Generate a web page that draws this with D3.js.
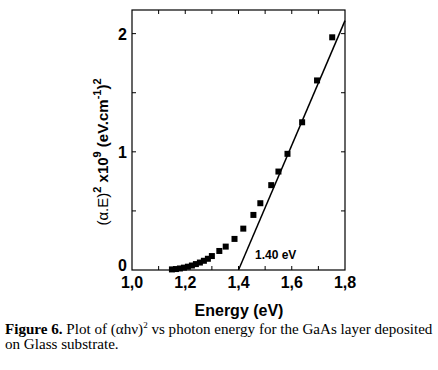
<!DOCTYPE html>
<html>
<head>
<meta charset="utf-8">
<script src="https://cdn.jsdelivr.net/npm/d3@7"></script>
<style>
  body { margin: 0; background: #fff; }
</style>
</head>
<body>
<script>
// Data
const energy = [1.15, 1.165, 1.18, 1.195, 1.21, 1.225, 1.24, 1.255, 1.27, 1.285, 1.30,
                1.328, 1.352, 1.385, 1.418, 1.456, 1.482, 1.523, 1.550, 1.584, 1.639, 1.695, 1.752];
const alphaE2 = [0.005, 0.008, 0.013, 0.02, 0.028, 0.038, 0.05, 0.063, 0.078, 0.095, 0.118,
                 0.161, 0.198, 0.263, 0.35, 0.466, 0.565, 0.718, 0.833, 0.983, 1.25, 1.604, 1.969];
const fitX = [1.40, 1.80];
const fitY = [0, 2.11];
const xTicks = [1.0, 1.2, 1.4, 1.6, 1.8];
const yTicks = [0, 1, 2];

const width = 438, height = 370;
const svg = d3.select('body')
    .append('svg')
    .attr('width', width)
    .attr('height', height);

// plot box edges
const plotL = 132, plotR = 345, plotT = 10, plotB = 270;

const x = d3.scaleLinear().domain([1.0, 1.8]).range([plotL, plotR]);
const y = d3.scaleLinear().domain([0, 2.2]).range([plotB, plotT]);

// Frame
svg.append('rect')
    .attr('x', plotL).attr('y', plotT)
    .attr('width', plotR - plotL).attr('height', plotB - plotT)
    .attr('fill', 'none').attr('stroke', 'black').attr('stroke-width', 1.2);

// Inward ticks on all sides
const minorX = d3.range(1.1, 1.8, 0.1);
const minorY = d3.range(0.5, 2.2, 0.5);
const tickLen = 4;
const ticks = svg.append('g').attr('stroke', 'black').attr('stroke-width', 1);
minorX.forEach(v => {
    ticks.append('line').attr('x1', x(v)).attr('x2', x(v)).attr('y1', plotB).attr('y2', plotB - tickLen);
    ticks.append('line').attr('x1', x(v)).attr('x2', x(v)).attr('y1', plotT).attr('y2', plotT + tickLen);
});
minorY.forEach(v => {
    ticks.append('line').attr('y1', y(v)).attr('y2', y(v)).attr('x1', plotL).attr('x2', plotL + tickLen);
    ticks.append('line').attr('y1', y(v)).attr('y2', y(v)).attr('x1', plotR).attr('x2', plotR - tickLen);
});

// Tick labels
svg.append('g').selectAll('text')
    .data(xTicks)
    .join('text')
    .attr('x', d => x(d))
    .attr('y', 288)
    .attr('text-anchor', 'middle')
    .attr('font-family', 'Liberation Sans, Arial')
    .attr('font-weight', 'bold')
    .attr('font-size', 16)
    .text(d => d3.format('.1f')(d).replace('.', ','));

svg.append('g').selectAll('text')
    .data(yTicks)
    .join('text')
    .attr('x', plotL - 5)
    .attr('y', d => d === 0 ? y(d) + 1 : y(d) + 6)
    .attr('text-anchor', 'end')
    .attr('font-family', 'Liberation Sans, Arial')
    .attr('font-weight', 'bold')
    .attr('font-size', 16)
    .text(d => d);

// Fit line
svg.append('line')
    .attr('x1', x(fitX[0])).attr('y1', y(fitY[0]))
    .attr('x2', x(fitX[1])).attr('y2', y(fitY[1]))
    .attr('stroke', 'black').attr('stroke-width', 1.5);

// Data squares
const sq = 6;
svg.append('g').selectAll('rect')
    .data(energy.map((e, i) => [e, alphaE2[i]]))
    .join('rect')
    .attr('x', d => x(d[0]) - sq / 2)
    .attr('y', d => y(d[1]) - sq / 2)
    .attr('width', sq).attr('height', sq)
    .attr('fill', 'black');

// Band gap label
svg.append('text')
    .attr('x', 255).attr('y', 259)
    .attr('font-family', 'Liberation Sans, Arial')
    .attr('font-weight', 'bold')
    .attr('font-size', 12)
    .text('1.40 eV');

// X axis title
svg.append('text')
    .attr('x', 239).attr('y', 316)
    .attr('text-anchor', 'middle')
    .attr('font-family', 'Liberation Sans, Arial')
    .attr('font-weight', 'bold')
    .attr('font-size', 16)
    .text('Energy (eV)');

// Y axis title
const yt = svg.append('text')
    .attr('transform', 'translate(108,152) rotate(-90)')
    .attr('text-anchor', 'middle')
    .attr('font-family', 'Liberation Sans, Arial')
    .attr('font-size', 15);
yt.append('tspan').text('(α.E)');
yt.append('tspan').attr('font-size', 11).attr('dy', -7).attr('font-weight', 'bold').text('2');
yt.append('tspan').attr('dy', 7).attr('font-weight', 'bold').text(' x10');
yt.append('tspan').attr('font-size', 11).attr('dy', -7).attr('font-weight', 'bold').text('9');
yt.append('tspan').attr('dy', 7).attr('font-weight', 'bold').text(' (eV.cm');
yt.append('tspan').attr('font-size', 11).attr('dy', -7).attr('font-weight', 'bold').text('-1');
yt.append('tspan').attr('dy', 7).attr('font-weight', 'bold').text(')');
yt.append('tspan').attr('font-size', 11).attr('dy', -7).attr('font-weight', 'bold').text('2');

// Caption
const cap1 = svg.append('text')
    .attr('x', 5).attr('y', 334)
    .attr('font-family', 'Liberation Serif, Times New Roman')
    .attr('font-size', 15.1);
cap1.append('tspan').attr('font-weight', 'bold').text('Figure 6.');
cap1.append('tspan').text(' Plot of (αhν)');
cap1.append('tspan').attr('font-size', 9).attr('dy', -6).text('2');
cap1.append('tspan').attr('dy', 6).text(' vs photon energy for the GaAs layer deposited');

svg.append('text')
    .attr('x', 5).attr('y', 349)
    .attr('font-family', 'Liberation Serif, Times New Roman')
    .attr('font-size', 15.1)
    .text('on Glass substrate.');
</script>
</body>
</html>
